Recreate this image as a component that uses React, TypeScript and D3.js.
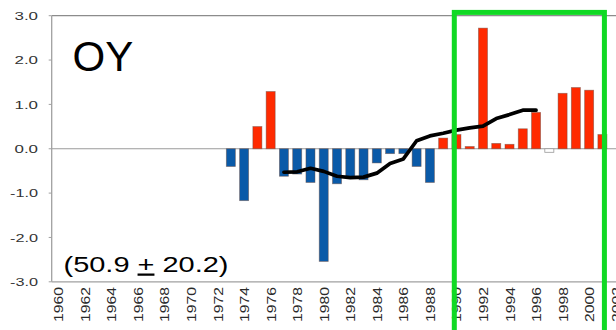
import React from "react";
import * as d3 from "d3";

// Year axis (every year gets a band; labels every second year)
const years: number[] = d3.range(1960, 2003);
const tickYears: number[] = d3.range(1960, 2003, 2);
const yTicks: number[] = [3, 2, 1, 0, -1, -2, -3];

// Annual anomalies
const barYears: number[] = [
  1973, 1974, 1975, 1976, 1977, 1978, 1979, 1980, 1981, 1982, 1983, 1984, 1985,
  1986, 1987, 1988, 1989, 1990, 1991, 1992, 1993, 1994, 1995, 1996, 1997, 1998,
  1999, 2000, 2001,
];
const anomalies: number[] = [
  -0.4, -1.17, 0.5, 1.29, -0.62, -0.57, -0.76, -2.54, -0.79, -0.66, -0.7, -0.32,
  -0.11, -0.11, -0.4, -0.76, 0.24, 0.32, 0.05, 2.72, 0.12, 0.1, 0.45, 0.82,
  -0.08, 1.25, 1.38, 1.32, 0.32,
];
const hollowYears: number[] = [1997];

// Running mean
const meanYears: number[] = [
  1977, 1978, 1979, 1980, 1981, 1982, 1983, 1984, 1985, 1986, 1987, 1988, 1989,
  1990, 1991, 1992, 1993, 1994, 1995, 1996,
];
const runningMean: number[] = [
  -0.53, -0.52, -0.44, -0.51, -0.62, -0.65, -0.64, -0.55, -0.33, -0.23, 0.18,
  0.29, 0.35, 0.42, 0.47, 0.51, 0.68, 0.77, 0.87, 0.87,
];

const highlightYears: [number, number] = [1990, 2001];

const W = 616;
const H = 330;
const left = 51.7;
const FONT = "'Liberation Sans', Arial, Helvetica, sans-serif";

export default function App() {
  const x = d3
    .scaleBand<number>()
    .domain(years)
    .range([left, left + years.length * 13.27])
    .paddingInner(0.32)
    .paddingOuter(0.16);
  const y = d3.scaleLinear().domain([-3, 3]).range([281.8, 15.7]);
  const cx = (yr: number) => (x(yr) as number) + x.bandwidth() / 2;
  const step = x.step();

  const line = d3
    .line<number>()
    .x((_, i) => cx(meanYears[i]))
    .y((d) => y(d));

  const hx0 = (x(highlightYears[0]) as number) - (step - x.bandwidth()) / 2 + 4.5;
  const hx1 = (x(highlightYears[1]) as number) + x.bandwidth() / 2 + 2;

  return (
    <svg
      width={W}
      height={H}
      style={{ position: "absolute", left: 0, top: 0, background: "#fff" }}
      fontFamily={FONT}
    >
      {/* frame lines */}
      <line x1={left} x2={W} y1={y(3)} y2={y(3)} stroke="#8c8c8c" strokeWidth={1.3} />
      <line x1={left} x2={W} y1={y(0)} y2={y(0)} stroke="#9a9a9a" strokeWidth={1.2} />
      <line x1={left} x2={W} y1={y(-3)} y2={y(-3)} stroke="#a0a0a0" strokeWidth={1.3} />
      <line x1={left} x2={left} y1={y(3)} y2={y(-3)} stroke="#a0a0a0" strokeWidth={1.3} />

      {/* y axis ticks and labels */}
      {yTicks.map((t) => (
        <g key={t}>
          <line x1={left - 3} x2={left} y1={y(t)} y2={y(t)} stroke="#a0a0a0" strokeWidth={1} />
          <text
            x={38}
            y={y(t)}
            dy="0.36em"
            textAnchor="end"
            fontSize={11.5}
            fill="#333"
            textLength={t < 0 ? 28 : 23.5}
            lengthAdjust="spacingAndGlyphs"
          >
            {t.toFixed(1)}
          </text>
        </g>
      ))}

      {/* x axis labels */}
      {tickYears.map((yr) => (
        <text
          key={yr}
          transform={`translate(${cx(yr)},287) rotate(-90)`}
          dy="0.37em"
          textAnchor="end"
          fontSize={13.5}
          fill="#2a2a2a"
          textLength={35}
          lengthAdjust="spacingAndGlyphs"
        >
          {yr}
        </text>
      ))}

      {/* anomaly bars */}
      {barYears.map((yr, i) => {
        const v = anomalies[i];
        const hollow = hollowYears.includes(yr);
        const fill = hollow ? "#ffffff" : v >= 0 ? "#ff2a00" : "#0a5aa8";
        return (
          <rect
            key={yr}
            x={x(yr)}
            width={x.bandwidth()}
            y={Math.min(y(v), y(0))}
            height={Math.abs(y(v) - y(0))}
            fill={fill}
            stroke={hollow ? "#999" : "#6a4a40"}
            strokeOpacity={hollow ? 1 : 0.55}
            strokeWidth={0.8}
          />
        );
      })}

      {/* running mean */}
      <path
        d={line(runningMean) ?? ""}
        fill="none"
        stroke="#000"
        strokeWidth={3.7}
        strokeLinejoin="round"
        strokeLinecap="round"
      />

      {/* titles */}
      <text x={72.5} y={70.7} fontSize={42} fill="#000">
        OY
      </text>
      <text
        x={63.5}
        y={271.5}
        fontSize={22.5}
        fill="#000"
        textLength={165}
        lengthAdjust="spacingAndGlyphs"
      >
        (50.9{" "}
        <tspan style={{ textDecoration: "underline" }}>+</tspan> 20.2)
      </text>

      {/* highlighted period */}
      <rect
        x={hx0}
        y={12.4}
        width={hx1 - hx0}
        height={H + 20}
        fill="none"
        stroke="#10d923"
        strokeWidth={5}
      />
    </svg>
  );
}
